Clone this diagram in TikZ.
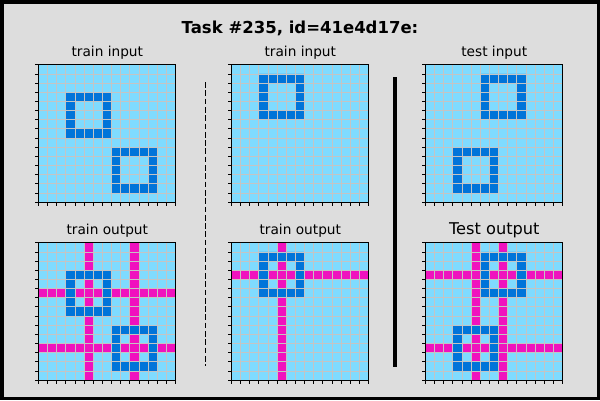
\documentclass[tikz,border=0pt]{standalone}
\usepackage{fontspec}
\setmainfont{DejaVu Sans}
\usepackage{tikz}
\usetikzlibrary{calc}
\definecolor{bggray}{HTML}{DDDDDD}
\definecolor{arcsky}{HTML}{7FDBFF}
\definecolor{arcblue}{HTML}{0074D9}
\definecolor{arcpink}{HTML}{F012BE}
\definecolor{gridgray}{HTML}{C4C4C4}
\newcommand{\cellsz}{9.15}
\tikzset{
  headline/.style={anchor=base, font=\bfseries\fontsize{16.5}{20}\selectfont},
  caption/.style={anchor=base, font=\fontsize{13.7}{16}\selectfont},
  board/.style={fill=arcsky},
  gridline/.style={gridgray, line width=.8pt},
  frame/.style={black, line width=1pt},
  ringfill/.style={fill=arcblue, even odd rule},
  crossfill/.style={fill=arcpink},
  tickmark/.style={black, line width=.8pt},
  divider/.style={black, line width=1.6pt, dash pattern=on 5.7pt off 2.6pt},
  splitter/.style={black, line width=4pt}
}
% pieces of one 15x15 board, drawn in a shifted scope
\newcommand{\boardbase}{\fill[board] (0,0) rectangle (15*\cellsz,15*\cellsz);}
\newcommand{\ringat}[2]{\fill[ringfill] (#2*\cellsz,#1*\cellsz) rectangle ++(5*\cellsz,5*\cellsz)
  ({(#2+1)*\cellsz},{(#1+1)*\cellsz}) rectangle ++(3*\cellsz,3*\cellsz);}
\newcommand{\pinkrow}[1]{\fill[crossfill] (0,#1*\cellsz) rectangle ++(15*\cellsz,\cellsz);}
\newcommand{\pinkcol}[1]{\fill[crossfill] (#1*\cellsz,0) rectangle ++(\cellsz,15*\cellsz);}
\newcommand{\boardtop}{%
  \foreach \k in {1,...,14}{
    \draw[gridline] (\k*\cellsz,0) -- (\k*\cellsz,15*\cellsz);
    \draw[gridline] (0,\k*\cellsz) -- (15*\cellsz,\k*\cellsz);
  }
  \foreach \k in {0,...,15}{
    \draw[tickmark] (\k*\cellsz,15*\cellsz) -- ++(0,3.5);
    \draw[tickmark] (0,\k*\cellsz) -- ++(-3.5,0);
  }
  \draw[frame] (0,0) rectangle (15*\cellsz,15*\cellsz);}
\begin{document}
\begin{tikzpicture}[x=1pt,y=-1pt]
  \useasboundingbox (0,0) rectangle (600,400);
  \fill[bggray] (0,0) rectangle (600,400);
  \draw[black,line width=3.5pt] (1.75,1.75) rectangle (598.25,398.25);

  \node[headline] (title) at (300,33) {Task \#235, id=41e4d17e:};
  \foreach \n/\x/\y/\t in {a/107.3/56/train input,b/300.3/56/train input,c/494.3/56/test input,
                           d/107.3/234/train output,e/300.3/234/train output}
    \node[caption] (cap\n) at (\x,\y) {\t};
  \node[caption,font=\fontsize{16.2}{19}\selectfont] (capf) at (494.3,234) {Test output};

  % first pair
  \begin{scope}[shift={(38.3,64.8)}]
    \boardbase \ringat{3}{3} \ringat{9}{8} \boardtop
  \end{scope}
  \begin{scope}[shift={(38.3,242.8)}]
    \boardbase \pinkrow{5} \pinkrow{11} \pinkcol{5} \pinkcol{10}
    \ringat{3}{3} \ringat{9}{8} \boardtop
  \end{scope}

  % second pair
  \begin{scope}[shift={(231.3,64.8)}]
    \boardbase \ringat{1}{3} \boardtop
  \end{scope}
  \begin{scope}[shift={(231.3,242.8)}]
    \boardbase \pinkrow{3} \pinkcol{5} \ringat{1}{3} \boardtop
  \end{scope}

  % test
  \begin{scope}[shift={(425.3,64.8)}]
    \boardbase \ringat{1}{6} \ringat{9}{3} \boardtop
  \end{scope}
  \begin{scope}[shift={(425.3,242.8)}]
    \boardbase \pinkrow{3} \pinkrow{11} \pinkcol{5} \pinkcol{8}
    \ringat{1}{6} \ringat{9}{3} \boardtop
  \end{scope}

  \coordinate (dtop) at (205.5,82);
  \coordinate (dbot) at (205.5,366);
  \draw[divider] (dtop) -- (dbot);
  \coordinate (stop) at (395,77);
  \coordinate (sbot) at (395,367);
  \draw[splitter] (stop) -- (sbot);
\end{tikzpicture}
\end{document}
